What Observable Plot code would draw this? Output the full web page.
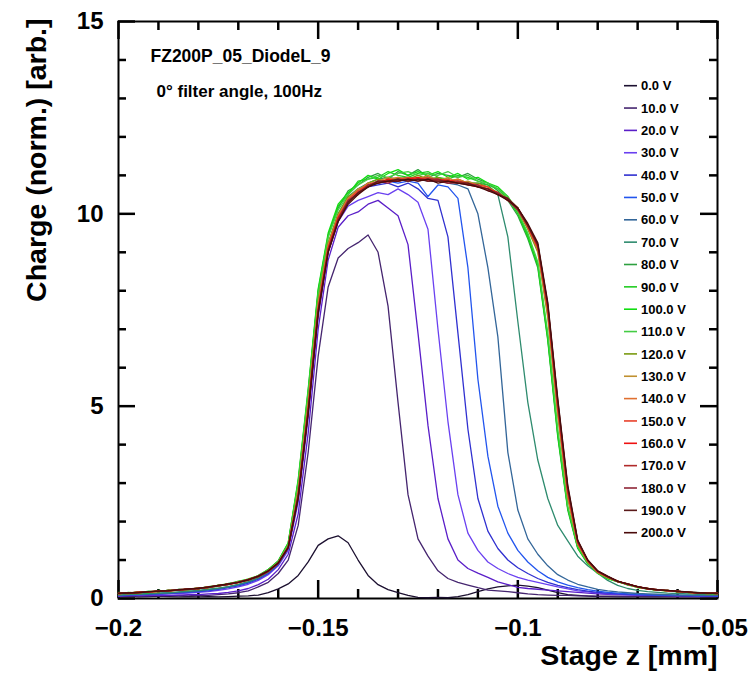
<!DOCTYPE html>
<html><head><meta charset="utf-8">
<script src="https://cdn.jsdelivr.net/npm/d3@7"></script>
<script src="https://cdn.jsdelivr.net/npm/@observablehq/plot@0.6"></script>
<style>body{margin:0;background:#fff}</style>
</head><body><div id="chart"></div>
<script>
// ---- data ----
const zGrid = [-0.2,-0.1975,-0.195,-0.1925,-0.19,-0.1875,-0.185,-0.1825,-0.18,-0.1775,
 -0.175,-0.1725,-0.17,-0.1675,-0.165,-0.1625,-0.16,-0.1575,-0.155,-0.1525,
 -0.15,-0.1475,-0.145,-0.1425,-0.14,-0.1375,-0.135,-0.1325,-0.13,-0.1275,
 -0.125,-0.1225,-0.12,-0.1175,-0.115,-0.1125,-0.11,-0.1075,-0.105,-0.1025,
 -0.1,-0.0975,-0.095,-0.0925,-0.09,-0.0875,-0.085,-0.0825,-0.08,-0.0775,
 -0.075,-0.0725,-0.07,-0.0675,-0.065,-0.0625,-0.06,-0.0575,-0.055,-0.0525,-0.05];

const voltages = ["0.0 V","10.0 V","20.0 V","30.0 V","40.0 V","50.0 V","60.0 V","70.0 V","80.0 V","90.0 V",
 "100.0 V","110.0 V","120.0 V","130.0 V","140.0 V","150.0 V","160.0 V","170.0 V","180.0 V","190.0 V","200.0 V"];
const colors = ["#1c1030","#45256f","#5a1ec8","#6a40f0","#3030d0","#2255ee","#336699","#2e8b6e","#2ea040","#22cc22",
 "#11dd11","#44cc44","#7a9a10","#c09030","#e07030","#e8402a","#ee1111","#b02a2a","#8f2535","#5a1a1a","#4a0a0a"];

const v0 = [0.05,0.06,0.04,0.05,0.06,0.05,0.04,0.05,0.04,0.05,
 0.04,0.05,0.06,0.07,0.09,0.15,0.25,0.38,0.60,0.95,
 1.38,1.55,1.63,1.45,1.00,0.60,0.36,0.23,0.15,0.08,
 0.03,0.02,0.03,0.02,0.05,0.10,0.18,0.25,0.30,0.33,
 0.35,0.32,0.28,0.22,0.15,0.10,0.08,0.06,0.05,0.05,
 0.04,0.05,0.04,0.04,0.05,0.04,0.04,0.05,0.04,0.04,0.05];
const v10 = [0.05,0.07,0.06,0.08,0.06,0.07,0.08,0.07,0.09,0.08,
 0.10,0.12,0.15,0.20,0.30,0.42,0.65,1.00,1.90,3.80,
 6.30,8.10,8.85,9.10,9.25,9.45,9.00,7.60,5.10,2.70,
 1.55,1.10,0.72,0.52,0.42,0.35,0.28,0.22,0.20,0.18,
 0.15,0.12,0.10,0.09,0.08,0.08,0.07,0.07,0.06,0.06,
 0.06,0.05,0.06,0.05,0.05,0.06,0.05,0.05,0.04,0.05,0.05];
const v20 = [0.06,0.07,0.08,0.07,0.09,0.08,0.09,0.10,0.10,0.12,
 0.13,0.16,0.20,0.26,0.36,0.50,0.75,1.15,2.20,4.30,
 7.00,8.80,9.65,9.95,10.05,10.25,10.35,10.15,9.95,9.20,
 6.90,4.50,2.60,1.55,1.00,0.78,0.66,0.55,0.43,0.36,
 0.29,0.26,0.24,0.22,0.20,0.18,0.16,0.14,0.12,0.11,
 0.10,0.09,0.09,0.08,0.08,0.07,0.08,0.07,0.06,0.07,0.06];
const v30 = [0.07,0.08,0.09,0.10,0.10,0.12,0.13,0.14,0.16,0.18,
 0.21,0.25,0.30,0.37,0.47,0.62,0.85,1.25,2.50,4.70,
 7.30,9.00,9.80,10.20,10.35,10.45,10.55,10.50,10.65,10.50,
 10.30,9.60,7.00,4.60,2.70,1.70,1.25,0.95,0.78,0.65,
 0.55,0.48,0.42,0.36,0.30,0.25,0.20,0.17,0.14,0.12,
 0.11,0.10,0.09,0.09,0.08,0.08,0.07,0.08,0.07,0.07,0.06];
const v40 = [0.08,0.09,0.10,0.11,0.12,0.13,0.15,0.16,0.18,0.20,
 0.24,0.28,0.33,0.40,0.50,0.65,0.88,1.30,2.60,4.90,
 7.50,9.10,9.90,10.35,10.55,10.70,10.75,10.80,10.70,10.80,
 10.65,10.40,10.35,9.40,6.90,4.40,2.60,1.75,1.30,1.00,
 0.80,0.65,0.52,0.42,0.34,0.28,0.23,0.19,0.16,0.14,
 0.12,0.11,0.10,0.09,0.09,0.08,0.08,0.07,0.08,0.07,0.07];
const v50 = [0.08,0.10,0.10,0.12,0.13,0.14,0.16,0.17,0.19,0.22,
 0.25,0.30,0.35,0.42,0.52,0.67,0.90,1.32,2.70,5.00,
 7.60,9.15,9.95,10.40,10.60,10.75,10.80,10.85,10.80,10.85,
 10.80,10.45,10.75,10.70,10.40,8.60,5.70,3.70,2.40,1.70,
 1.25,0.95,0.72,0.55,0.43,0.35,0.28,0.23,0.19,0.16,
 0.14,0.12,0.11,0.10,0.09,0.09,0.08,0.08,0.07,0.08,0.07];
const v60 = [0.09,0.10,0.11,0.12,0.13,0.15,0.16,0.18,0.20,0.23,
 0.26,0.30,0.36,0.43,0.53,0.68,0.90,1.33,2.75,5.05,
 7.65,9.20,9.95,10.40,10.65,10.75,10.85,10.85,10.90,10.85,
 10.90,10.85,10.85,10.80,10.75,10.65,10.00,8.60,6.80,3.80,
 2.30,1.55,1.15,0.85,0.62,0.48,0.37,0.30,0.24,0.20,
 0.17,0.15,0.13,0.12,0.11,0.10,0.09,0.09,0.08,0.08,0.08];
const v70 = [0.09,0.11,0.11,0.13,0.14,0.15,0.17,0.19,0.21,0.24,
 0.27,0.31,0.37,0.44,0.54,0.69,0.91,1.34,2.75,5.05,
 7.65,9.20,10.00,10.45,10.65,10.80,10.90,10.95,10.90,10.95,
 10.90,10.95,10.90,10.85,10.85,10.80,10.80,10.75,10.50,9.40,
 7.20,5.10,3.60,2.60,1.90,1.50,1.10,0.85,0.66,0.47,
 0.34,0.26,0.21,0.18,0.16,0.14,0.13,0.12,0.11,0.10,0.10];
const v80 = [0.15,0.12,0.18,0.16,0.20,0.18,0.24,0.22,0.27,0.30,
 0.31,0.39,0.44,0.47,0.60,0.75,0.98,1.45,3.05,5.40,
 8.00,9.45,10.15,10.60,10.75,10.95,11.05,10.90,11.10,11.00,
 11.15,10.95,11.05,11.00,10.95,11.05,10.90,10.80,10.60,10.35,
 9.95,9.35,8.60,6.70,4.20,2.30,1.30,0.90,0.66,0.52,
 0.45,0.35,0.30,0.24,0.23,0.19,0.19,0.15,0.16,0.13,0.12];
const v90 = [0.12,0.16,0.14,0.19,0.17,0.22,0.21,0.25,0.25,0.31,
 0.34,0.36,0.45,0.50,0.57,0.76,0.96,1.42,3.00,5.30,
 7.95,9.40,10.20,10.50,10.85,10.90,10.95,11.10,11.00,10.95,
 11.05,11.10,10.95,10.90,11.00,10.95,10.85,10.75,10.65,10.40,
 10.00,9.40,8.70,6.80,4.30,2.35,1.32,0.92,0.65,0.53,
 0.43,0.37,0.28,0.26,0.21,0.21,0.17,0.17,0.14,0.14,0.12];
const v100 = [0.16,0.13,0.17,0.15,0.21,0.19,0.23,0.23,0.28,0.28,
 0.35,0.38,0.43,0.51,0.59,0.74,0.97,1.44,3.10,5.45,
 8.05,9.50,10.25,10.55,10.80,11.00,10.90,11.05,11.15,11.00,
 11.10,11.00,11.10,10.95,11.05,10.90,10.95,10.80,10.70,10.45,
 10.05,9.45,8.65,6.75,4.25,2.35,1.33,0.91,0.68,0.51,
 0.44,0.36,0.31,0.25,0.22,0.20,0.18,0.16,0.15,0.13,0.13];
const v110 = [0.14,0.15,0.15,0.18,0.18,0.21,0.22,0.24,0.26,0.30,
 0.32,0.38,0.43,0.49,0.58,0.73,0.95,1.40,3.00,5.35,
 7.90,9.40,10.10,10.50,10.75,10.90,11.00,10.95,11.05,11.10,
 11.00,11.05,11.00,11.10,10.95,11.00,10.85,10.80,10.65,10.45,
 10.05,9.50,8.75,6.90,4.40,2.40,1.35,0.93,0.66,0.53,
 0.44,0.36,0.29,0.25,0.22,0.20,0.18,0.16,0.15,0.14,0.12];
const v120 = [0.13,0.14,0.17,0.16,0.19,0.21,0.21,0.25,0.26,0.28,
 0.34,0.37,0.41,0.49,0.59,0.71,0.92,1.36,2.85,5.15,
 7.75,9.25,10.00,10.45,10.60,10.80,10.90,10.85,10.95,10.90,
 11.00,10.90,10.95,10.85,10.90,10.80,10.80,10.70,10.55,10.40,
 10.10,9.60,9.00,7.30,4.75,2.60,1.40,0.95,0.67,0.54,
 0.45,0.37,0.30,0.25,0.22,0.21,0.18,0.16,0.15,0.14,0.13];
const v130 = [0.14,0.13,0.16,0.18,0.18,0.20,0.23,0.24,0.27,0.29,
 0.33,0.38,0.42,0.48,0.58,0.72,0.93,1.34,2.80,5.05,
 7.65,9.20,9.95,10.40,10.65,10.75,10.85,10.95,10.85,10.90,
 10.90,11.00,10.85,10.95,10.80,10.85,10.75,10.70,10.50,10.40,
 10.15,9.65,9.05,7.40,4.85,2.65,1.42,0.96,0.68,0.55,
 0.44,0.38,0.29,0.26,0.22,0.20,0.19,0.16,0.15,0.13,0.14];
const v140 = [0.12,0.15,0.15,0.17,0.20,0.19,0.22,0.25,0.25,0.30,
 0.32,0.37,0.43,0.49,0.57,0.72,0.94,1.36,2.75,5.00,
 7.60,9.15,9.95,10.40,10.60,10.80,10.80,10.90,10.95,10.85,
 10.95,10.90,10.90,10.85,10.90,10.80,10.75,10.65,10.55,10.35,
 10.15,9.65,9.10,7.45,4.90,2.70,1.43,0.97,0.69,0.55,
 0.45,0.37,0.30,0.25,0.23,0.20,0.18,0.17,0.14,0.14,0.13];
const v150 = [0.13,0.14,0.17,0.16,0.19,0.20,0.23,0.23,0.27,0.29,
 0.34,0.36,0.42,0.50,0.58,0.71,0.92,1.33,2.70,4.95,
 7.55,9.10,9.90,10.35,10.60,10.75,10.85,10.85,10.90,10.95,
 10.90,10.95,10.85,10.90,10.80,10.80,10.75,10.70,10.50,10.40,
 10.10,9.65,9.10,7.50,4.95,2.75,1.45,0.97,0.69,0.56,
 0.44,0.38,0.30,0.26,0.22,0.21,0.18,0.16,0.15,0.14,0.13];
const v160 = [0.14,0.13,0.16,0.18,0.18,0.21,0.22,0.24,0.26,0.30,
 0.33,0.37,0.41,0.48,0.57,0.70,0.91,1.32,2.65,4.90,
 7.50,9.10,9.90,10.30,10.55,10.75,10.80,10.90,10.85,10.90,
 10.95,10.85,10.90,10.85,10.85,10.75,10.70,10.65,10.55,10.35,
 10.15,9.70,9.15,7.55,5.00,2.80,1.46,0.98,0.70,0.56,
 0.45,0.37,0.31,0.25,0.23,0.20,0.19,0.16,0.15,0.13,0.14];
const v170 = [0.13,0.15,0.15,0.17,0.20,0.19,0.22,0.25,0.27,0.28,
 0.33,0.38,0.42,0.49,0.58,0.71,0.92,1.33,2.65,4.85,
 7.45,9.05,9.85,10.30,10.55,10.70,10.85,10.80,10.90,10.85,
 10.90,10.90,10.85,10.80,10.85,10.80,10.70,10.65,10.50,10.40,
 10.15,9.70,9.15,7.60,5.05,2.85,1.47,0.98,0.70,0.56,
 0.44,0.38,0.30,0.26,0.22,0.21,0.18,0.17,0.14,0.14,0.13];
const v180 = [0.14,0.14,0.16,0.18,0.19,0.20,0.23,0.24,0.26,0.29,
 0.34,0.37,0.43,0.49,0.58,0.72,0.93,1.34,2.70,4.90,
 7.50,9.05,9.85,10.35,10.50,10.75,10.80,10.85,10.85,10.90,
 10.85,10.90,10.90,10.80,10.80,10.75,10.75,10.60,10.55,10.35,
 10.10,9.70,9.20,7.60,5.10,2.85,1.48,0.99,0.71,0.57,
 0.45,0.37,0.31,0.25,0.23,0.20,0.19,0.16,0.15,0.14,0.13];
const v190 = [0.13,0.15,0.16,0.17,0.19,0.21,0.22,0.24,0.27,0.29,
 0.33,0.37,0.42,0.48,0.57,0.71,0.92,1.33,2.65,4.85,
 7.45,9.00,9.80,10.30,10.55,10.70,10.85,10.85,10.90,10.85,
 10.90,10.85,10.85,10.85,10.80,10.80,10.70,10.65,10.50,10.40,
 10.15,9.70,9.20,7.65,5.15,2.90,1.50,1.00,0.71,0.57,
 0.44,0.38,0.30,0.26,0.22,0.21,0.18,0.17,0.15,0.14,0.13];
const v200 = [0.14,0.14,0.15,0.18,0.19,0.20,0.23,0.25,0.26,0.30,
 0.34,0.38,0.42,0.49,0.58,0.72,0.92,1.32,2.60,4.80,
 7.40,9.00,9.80,10.25,10.50,10.70,10.80,10.85,10.85,10.90,
 10.85,10.90,10.80,10.85,10.80,10.75,10.70,10.60,10.50,10.35,
 10.15,9.75,9.25,7.70,5.20,2.95,1.52,1.00,0.72,0.58,
 0.45,0.38,0.31,0.26,0.23,0.21,0.19,0.17,0.15,0.14,0.14];

const seriesValues = [v0,v10,v20,v30,v40,v50,v60,v70,v80,v90,v100,v110,v120,v130,v140,v150,v160,v170,v180,v190,v200];

const xMajorTicks = [-0.2,-0.15,-0.1,-0.05];
const xMinorTicks = [-0.19,-0.18,-0.17,-0.16,-0.14,-0.13,-0.12,-0.11,-0.09,-0.08,-0.07,-0.06];
const yMajorTicks = [0,5,10,15];
const yMinorTicks = [1,2,3,4,6,7,8,9,11,12,13,14];

const xTitle = "Stage z [mm]";
const yTitle = "Charge (norm.) [arb.]";
const note1 = "FZ200P_05_DiodeL_9";
const note2 = "0° filter angle, 100Hz";

// ---- build ----
const rows = seriesValues.flatMap((vals, i) => vals.map((q, k) => ({z: zGrid[k], q, s: voltages[i]})));

const W = 751, H = 673, mL = 118, mR = 34, mT = 21, mB = 75;
const iW = W - mL - mR, iH = H - mT - mB;
const xDom = [-0.2, -0.05], yDom = [0, 15];
const font = "'Liberation Sans', Arial, Helvetica, sans-serif";

// inward tick lengths, pixels -> data units
const yPerPx = (yDom[1] - yDom[0]) / iH;
const xPerPx = (xDom[1] - xDom[0]) / iW;
const tk = {stroke: "#000000", strokeWidth: 2.5};

function legend(index, scales, values, dims) {
  const g = d3.create("svg:g").attr("font-family", font).attr("font-weight", "bold").attr("font-size", 13);
  voltages.forEach((lab, i) => {
    const y = dims.marginTop + 64.7 + i * 22.35;
    const x0 = dims.marginLeft + 506;
    g.append("line").attr("x1", x0).attr("x2", x0 + 13).attr("y1", y).attr("y2", y)
      .attr("stroke", colors[i]).attr("stroke-width", 1.6);
    g.append("text").attr("x", x0 + 17).attr("y", y).attr("dy", "0.36em")
      .attr("text-anchor", "start").attr("fill", "black").text(lab);
  });
  return g.node();
}

const fmt = d3.format("");
const chart = Plot.plot({
  width: W, height: H,
  marginLeft: mL, marginRight: mR, marginTop: mT, marginBottom: mB,
  x: {domain: xDom},
  y: {domain: yDom},
  color: {type: "ordinal", domain: voltages, range: colors},
  marks: [
    Plot.frame({stroke: "black", strokeWidth: 2}),
    Plot.ruleX(xMajorTicks, {x: d => d, y1: yDom[0], y2: yDom[0] + 18 * yPerPx, ...tk}),
    Plot.ruleX(xMinorTicks, {x: d => d, y1: yDom[0], y2: yDom[0] + 9 * yPerPx, ...tk}),
    Plot.ruleX(xMajorTicks, {x: d => d, y1: yDom[1], y2: yDom[1] - 18 * yPerPx, ...tk}),
    Plot.ruleX(xMinorTicks, {x: d => d, y1: yDom[1], y2: yDom[1] - 9 * yPerPx, ...tk}),
    Plot.ruleY(yMajorTicks, {y: d => d, x1: xDom[0], x2: xDom[0] + 17 * xPerPx, ...tk}),
    Plot.ruleY(yMinorTicks, {y: d => d, x1: xDom[0], x2: xDom[0] + 8 * xPerPx, ...tk}),
    Plot.ruleY(yMajorTicks, {y: d => d, x1: xDom[1], x2: xDom[1] - 17 * xPerPx, ...tk}),
    Plot.ruleY(yMinorTicks, {y: d => d, x1: xDom[1], x2: xDom[1] - 8 * xPerPx, ...tk}),
    Plot.line(rows, {x: "z", y: "q", z: "s", stroke: "s", strokeWidth: 1.3, strokeLinejoin: "round"}),
    Plot.axisX(xMajorTicks, {tickSize: 0, tickPadding: 20, fontSize: 24, fontWeight: "bold", fontFamily: font, tickFormat: fmt, label: null}),
    Plot.axisY(yMajorTicks, {tickSize: 0, tickPadding: 15, fontSize: 24, fontWeight: "bold", fontFamily: font, tickFormat: fmt, label: null}),
    Plot.text([xTitle], {text: d => d, frameAnchor: "bottom-right", textAnchor: "end", lineAnchor: "bottom", dy: 66, fontSize: 28.5, fontWeight: "bold", fontFamily: font, fill: "black"}),
    Plot.text([yTitle], {text: d => d, frameAnchor: "top-left", rotate: -90, textAnchor: "end", lineAnchor: "bottom", dx: -73, dy: -3, fontSize: 28.5, fontWeight: "bold", fontFamily: font, fill: "black"}),
    Plot.text([note1], {text: d => d, frameAnchor: "top-left", textAnchor: "start", lineAnchor: "bottom", dx: 32, dy: 40, fontSize: 17.5, fontWeight: "bold", fontFamily: font, fill: "black"}),
    Plot.text([note2], {text: d => d, frameAnchor: "top-left", textAnchor: "start", lineAnchor: "bottom", dx: 38, dy: 75, fontSize: 17, fontWeight: "bold", fontFamily: font, fill: "black"}),
    legend
  ]
});
document.getElementById("chart").appendChild(chart);
</script>
</body></html>
